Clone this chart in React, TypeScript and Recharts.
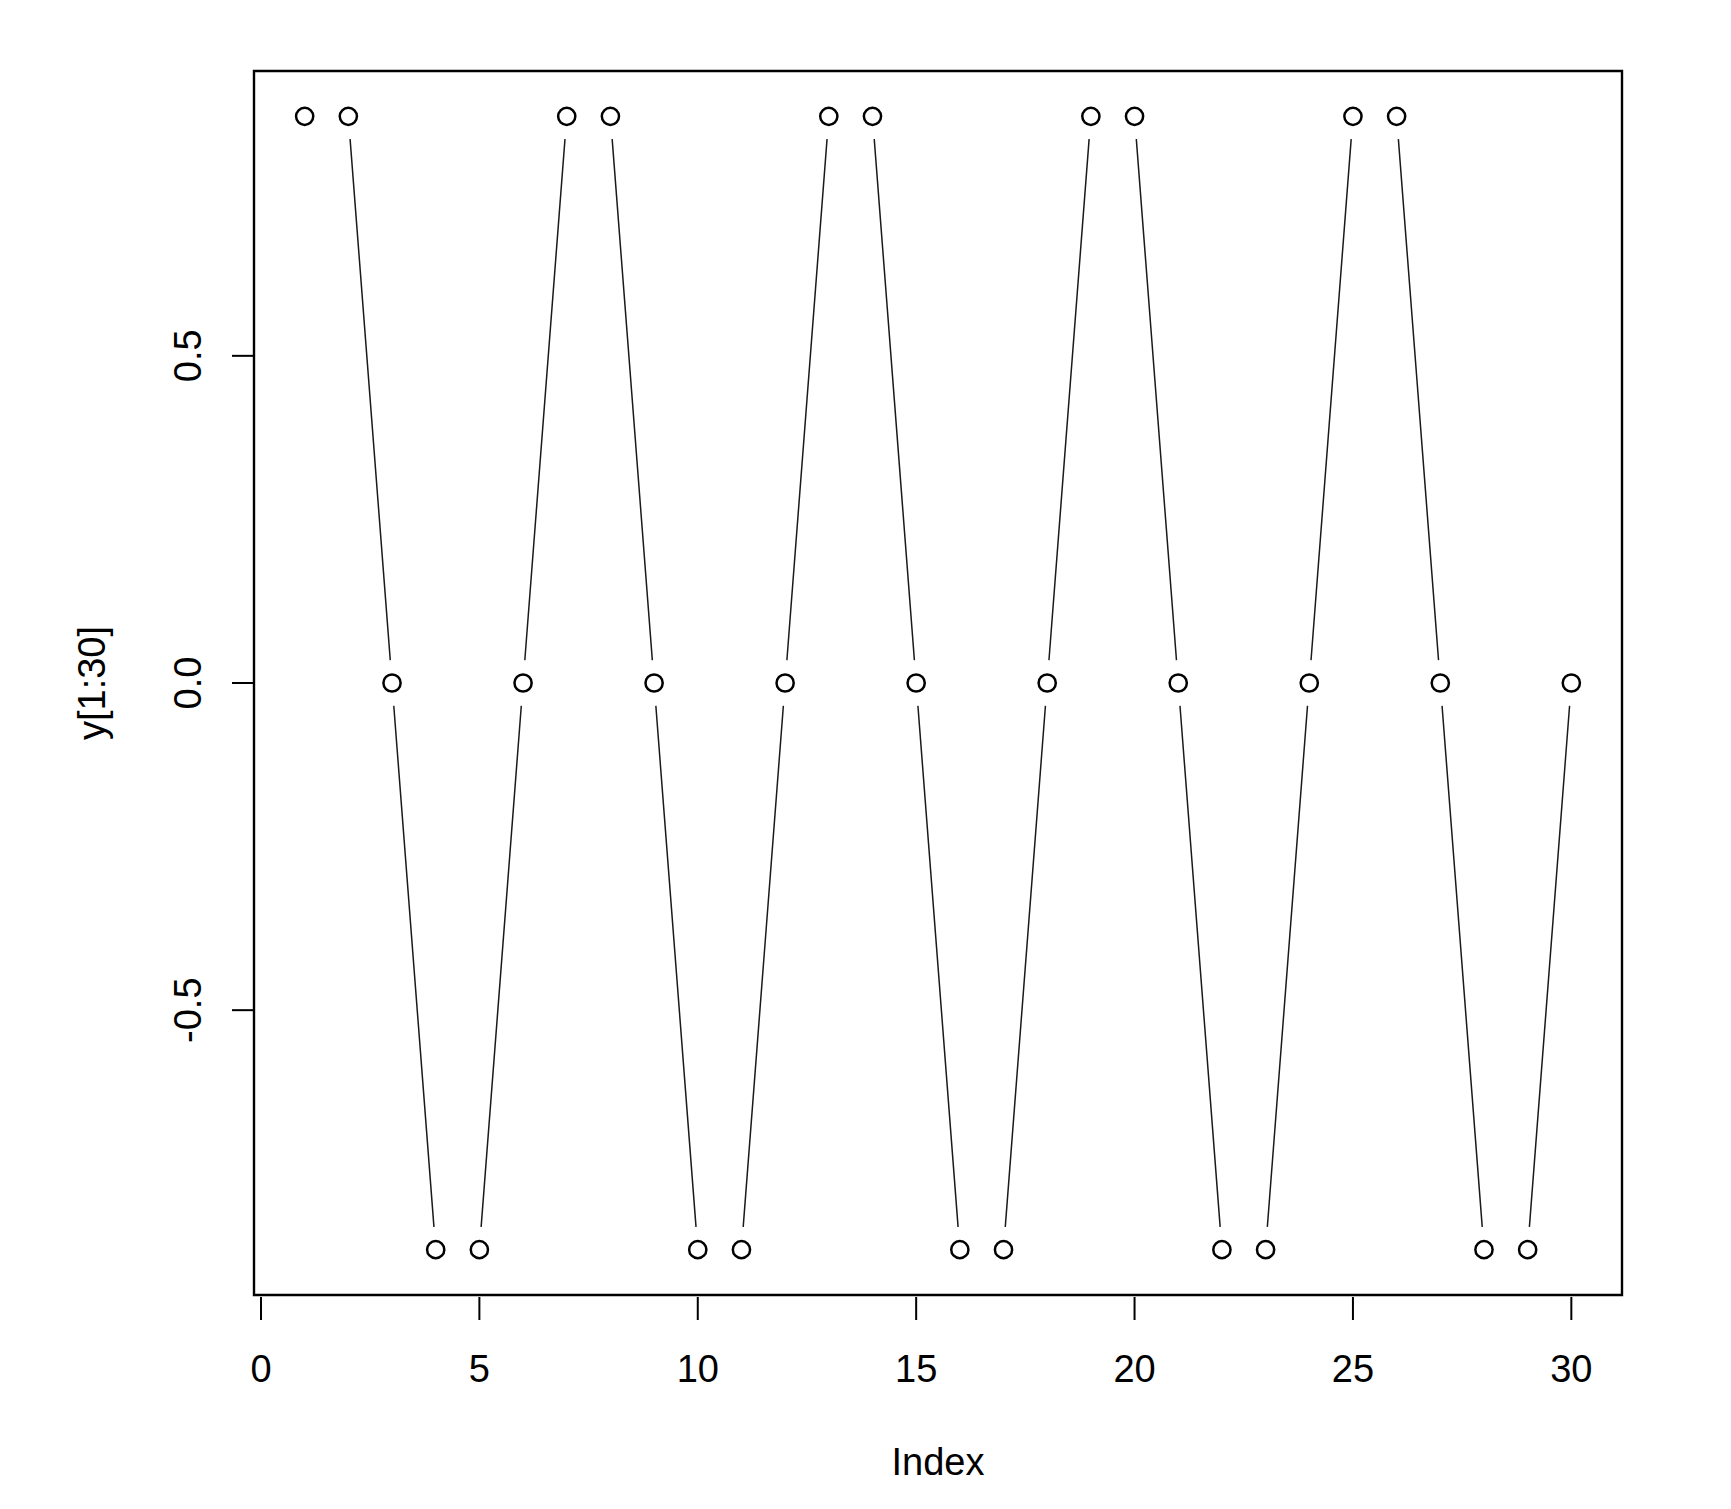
import React from 'react';
import { LineChart, Line, XAxis, YAxis, ReferenceArea } from 'recharts';

const indexValues = [1, 2, 3, 4, 5, 6, 7, 8, 9, 10, 11, 12, 13, 14, 15, 16, 17, 18, 19, 20, 21, 22, 23, 24, 25, 26, 27, 28, 29, 30];
const yValues = [
  0.866, 0.866, 0, -0.866, -0.866, 0,
  0.866, 0.866, 0, -0.866, -0.866, 0,
  0.866, 0.866, 0, -0.866, -0.866, 0,
  0.866, 0.866, 0, -0.866, -0.866, 0,
  0.866, 0.866, 0, -0.866, -0.866, 0,
];
const xTicks = [0, 5, 10, 15, 20, 25, 30];
const yTicks = [-0.5, 0, 0.5];
const yTickLabels = ['-0.5', '0.0', '0.5'];

// R-style 4% padding around the data range
const xDomain: [number, number] = [-0.16, 31.16];
const yDomain: [number, number] = [-0.9353, 0.9353];

const data = indexValues.map((x, i) => ({ x, y: yValues[i] }));

const FONT = '"Liberation Sans", Arial, Helvetica, sans-serif';

const XTick = ({ x, y, payload }: any) => (
  <g>
    <line x1={x} y1={y + 2} x2={x} y2={y + 25} stroke="#000" strokeWidth={2} />
    <text x={x} y={y + 87} textAnchor="middle" fontFamily={FONT} fontSize={38} fill="#000">
      {payload.value}
    </text>
  </g>
);

const YTick = ({ x, y, payload }: any) => {
  const idx = yTicks.indexOf(payload.value);
  const label = idx >= 0 ? yTickLabels[idx] : String(payload.value);
  return (
    <g>
      <line x1={x - 22} y1={y} x2={x} y2={y} stroke="#000" strokeWidth={2} />
      <text
        x={x - 53}
        y={y}
        transform={`rotate(-90, ${x - 53}, ${y})`}
        textAnchor="middle"
        fontFamily={FONT}
        fontSize={38}
        fill="#000"
      >
        {label}
      </text>
    </g>
  );
};

// open circle with a white halo so the line stops short of each point (R type = "b")
const RDot = (props: any) => {
  const { cx, cy, index } = props;
  if (cx == null || cy == null) return <g key={`d-${index}`} />;
  return (
    <g key={`d-${index}`}>
      <circle cx={cx} cy={cy} r={23} fill="#fff" stroke="none" />
      <circle cx={cx} cy={cy} r={8.6} fill="none" stroke="#000" strokeWidth={2.5} />
    </g>
  );
};

export default function App() {
  return (
    <div style={{ position: 'absolute', left: 0, top: 0, width: 1731, height: 1509, background: '#fff' }}>
      <LineChart width={1731} height={1509} data={data} margin={{ top: 71, right: 109, bottom: 0, left: 0 }}>
        <XAxis
          dataKey="x"
          type="number"
          domain={xDomain}
          ticks={xTicks}
          allowDataOverflow
          axisLine={false}
          tickLine={false}
          tickSize={0}
          tickMargin={0}
          height={214}
          tick={<XTick />}
          interval={0}
          label={{
            content: ({ viewBox }: any) => (
              <text
                x={viewBox.x + viewBox.width / 2}
                y={viewBox.y + 180}
                textAnchor="middle"
                fontFamily={FONT}
                fontSize={38}
                fill="#000"
              >
                Index
              </text>
            ),
          }}
        />
        <YAxis
          type="number"
          domain={yDomain}
          ticks={yTicks}
          allowDataOverflow
          axisLine={false}
          tickLine={false}
          tickSize={0}
          tickMargin={0}
          width={254}
          tick={<YTick />}
          interval={0}
          label={{
            content: ({ viewBox }: any) => {
              const lx = viewBox.x + 105;
              const ly = viewBox.y + viewBox.height / 2;
              return (
                <text
                  x={lx}
                  y={ly}
                  transform={`rotate(-90, ${lx}, ${ly})`}
                  textAnchor="middle"
                  fontFamily={FONT}
                  fontSize={38}
                  fill="#000"
                >
                  y[1:30]
                </text>
              );
            },
          }}
        />
        <ReferenceArea
          x1={xDomain[0]}
          x2={xDomain[1]}
          y1={yDomain[0]}
          y2={yDomain[1]}
          fill="none"
          stroke="#000"
          strokeWidth={2.4}
          ifOverflow="visible"
        />
        <Line
          type="linear"
          dataKey="y"
          stroke="#1a1a1a"
          strokeWidth={1.5}
          dot={RDot}
          activeDot={false}
          isAnimationActive={false}
        />
      </LineChart>
    </div>
  );
}
